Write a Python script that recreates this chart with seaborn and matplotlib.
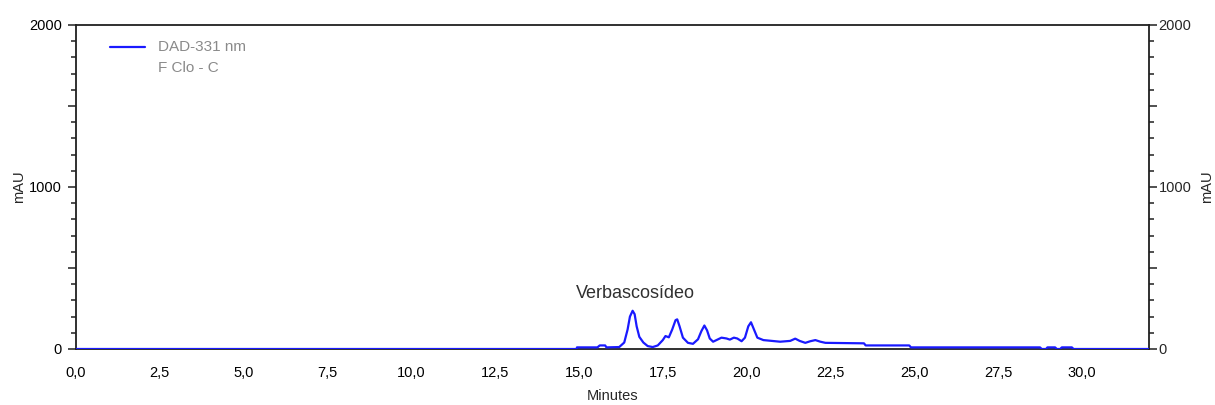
import matplotlib
matplotlib.use("Agg")
import matplotlib.pyplot as plt
import seaborn as sns
import pandas as pd
from matplotlib.ticker import MultipleLocator, FixedLocator, FuncFormatter

# Chromatogram trace (retention time in minutes, absorbance in mAU)
time_min = [0.0, 14.93, 14.94, 15.55, 15.62, 15.78, 15.82, 16.2, 16.35, 16.45,
            16.52, 16.6, 16.66, 16.72, 16.8, 16.92, 17.05, 17.2, 17.35, 17.5,
            17.58, 17.68, 17.78, 17.88, 17.93, 18.0, 18.1, 18.25, 18.4, 18.55,
            18.65, 18.74, 18.82, 18.9, 19.0, 19.15, 19.25, 19.4, 19.5, 19.62,
            19.72, 19.85, 19.95, 20.05, 20.13, 20.22, 20.32, 20.5, 21.0, 21.3,
            21.45, 21.58, 21.75, 21.9, 22.05, 22.2, 22.35, 23.5, 23.55, 24.85,
            24.9, 28.75, 28.8, 28.93, 28.97, 29.2, 29.25, 29.35, 29.4, 29.7,
            29.75, 32.0]
signal_mau = [0, 0, 10, 10, 22, 22, 10, 12, 40, 120,
              200, 236, 215, 140, 75, 40, 18, 12, 22, 55,
              80, 72, 120, 178, 183, 140, 70, 38, 32, 60,
              110, 145, 115, 65, 45, 60, 70, 65, 58, 70,
              65, 48, 70, 140, 165, 120, 70, 55, 45, 50,
              64, 50, 38, 48, 55, 45, 38, 35, 22, 22,
              10, 10, 0, 0, 10, 10, 0, 0, 10, 10,
              0, 0]

x_major_ticks = [0.0, 2.5, 5.0, 7.5, 10.0, 12.5, 15.0, 17.5, 20.0, 22.5, 25.0, 27.5, 30.0]
y_labelled_ticks = [0, 1000, 2000]
peak_label = "Verbascosídeo"
peak_label_time = 16.67
peak_label_level = 345
legend_lines = ["DAD-331 nm", "F Clo - C"]

df = pd.DataFrame({"Minutes": time_min, "mAU": signal_mau})

sns.set_style("white")
plt.rcParams["font.family"] = ["Liberation Sans", "DejaVu Sans"]

fig = plt.figure(figsize=(12.15, 4.05), dpi=100)
ax = fig.add_axes([76 / 1215, 56 / 405, (1149 - 76) / 1215, (349 - 25) / 405])

sns.lineplot(data=df, x="Minutes", y="mAU", ax=ax, color="#1a1aff",
             linewidth=1.6, estimator=None, sort=False, zorder=3)

ax.set_xlim(0, 32)
ax.set_ylim(0, 2000)

for side in ["left", "right", "top", "bottom"]:
    ax.spines[side].set_visible(True)
    ax.spines[side].set_color("#202020")
    ax.spines[side].set_linewidth(1.3)

comma = FuncFormatter(lambda v, p: f"{v:.1f}".replace(".", ","))
ax.xaxis.set_major_locator(FixedLocator(x_major_ticks))
ax.xaxis.set_major_formatter(comma)
ax.xaxis.set_minor_locator(MultipleLocator(0.5))

ax.yaxis.set_major_locator(MultipleLocator(500))
ax.yaxis.set_minor_locator(MultipleLocator(100))
ylab = FuncFormatter(lambda v, p: f"{int(v)}" if int(v) in y_labelled_ticks else "")
ax.yaxis.set_major_formatter(ylab)

ax.tick_params(axis="both", which="major", direction="out", length=6, width=1.1,
               color="#202020", labelsize=10.5, labelcolor="black")
ax.tick_params(axis="both", which="minor", direction="out", length=3.5, width=1.1,
               color="#202020")
ax.tick_params(axis="x", which="major", pad=6)
ax.tick_params(axis="y", which="major", pad=4)

ax.set_xlabel("Minutes", fontsize=10.5, labelpad=7)
ax.set_ylabel("mAU", fontsize=10.5, labelpad=2)

# Mirror the absorbance scale on the right-hand side
ax2 = ax.twinx()
ax2.set_ylim(ax.get_ylim())
ax2.yaxis.set_major_locator(MultipleLocator(500))
ax2.yaxis.set_minor_locator(MultipleLocator(100))
ax2.yaxis.set_major_formatter(ylab)
ax2.tick_params(axis="y", which="major", direction="out", length=6, width=1.1,
                color="#202020", labelsize=10.5, pad=1)
ax2.tick_params(axis="y", which="minor", direction="out", length=3.5, width=1.1,
                color="#202020")
ax2.set_ylabel("mAU", fontsize=10.5, labelpad=6)
for side in ["left", "right", "top", "bottom"]:
    ax2.spines[side].set_visible(False)

# Peak annotation
ax.text(peak_label_time, peak_label_level, peak_label, ha="center", va="center",
        fontsize=13, color="#303030")

# Legend block in the upper-left corner
ax.plot([1.0, 2.05], [1865, 1865], color="#1a1aff", linewidth=1.6)
ax.text(2.45, 1865, legend_lines[0], ha="left", va="center", fontsize=11, color="#8a8a8a")
ax.text(2.45, 1735, legend_lines[1], ha="left", va="center", fontsize=11, color="#8a8a8a")

fig.savefig("out.png", dpi=100)
